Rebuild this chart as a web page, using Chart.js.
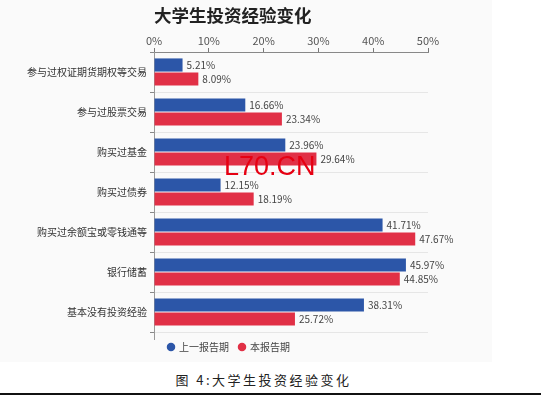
<!DOCTYPE html>
<html>
<head>
<meta charset="utf-8">
<script src="https://cdn.jsdelivr.net/npm/chart.js@4/dist/chart.umd.min.js"></script>
<style>
  html, body { margin: 0; padding: 0; background: #ffffff; }
  body { width: 541px; height: 396px; position: relative; overflow: hidden; }
  #panel { position: absolute; left: 0; top: 0; width: 492px; height: 362px; background: #fafafa; }
  #chart { position: absolute; left: 0; top: 0; }
  #wm { position: absolute; left: 224px; top: 153px; font-family: "Liberation Sans", Arial, sans-serif; font-size: 27px; line-height: 27px; color: #e60012; white-space: nowrap; }
  #caption { position: absolute; left: 0; width: 527px; top: 370px; text-align: center; font-family: "Noto Sans CJK SC", sans-serif; font-size: 13px; line-height: 20px; letter-spacing: 2.5px; color: #222; }
  #rule { position: absolute; left: 0; top: 393px; width: 541px; height: 2px; background: #111; }
</style>
</head>
<body>
<div id="panel"><canvas id="chart" width="492" height="362"></canvas></div>
<div id="wm">L70.CN</div>
<div id="caption">图 4:大学生投资经验变化</div>
<div id="rule"></div>
<script>
const chartTitle = "大学生投资经验变化";
const categories = ["参与过权证期货期权等交易", "参与过股票交易", "购买过基金", "购买过债券", "购买过余额宝或零钱通等", "银行储蓄", "基本没有投资经验"];
const seriesNames = ["上一报告期", "本报告期"];
const previousPeriod = [5.21, 16.66, 23.96, 12.15, 41.71, 45.97, 38.31];
const currentPeriod = [8.09, 23.34, 29.64, 18.19, 47.67, 44.85, 25.72];
const tickValues = [0, 10, 20, 30, 40, 50];

const FONT = "'Noto Sans CJK SC', 'Noto Sans', sans-serif";

const titlePlugin = {
  id: 'leftTitle',
  afterDraw(chart) {
    const ctx = chart.ctx;
    ctx.save();
    ctx.font = "bold 17.5px " + FONT;
    ctx.fillStyle = "#222";
    ctx.textBaseline = "middle";
    ctx.textAlign = "left";
    ctx.fillText(chartTitle, chart.chartArea.left, 15);
    const x = Math.round(chart.chartArea.left) + 0.5;
    ctx.strokeStyle = '#999';
    ctx.lineWidth = 1;
    ctx.beginPath();
    ctx.moveTo(x, chart.chartArea.bottom);
    ctx.lineTo(x, chart.chartArea.bottom + 8);
    ctx.stroke();
    ctx.restore();
  }
};

const valueLabels = {
  id: 'valueLabels',
  afterDatasetsDraw(chart) {
    const ctx = chart.ctx;
    ctx.save();
    ctx.font = "10px " + FONT;
    ctx.fillStyle = "#444";
    ctx.textBaseline = "middle";
    ctx.textAlign = "left";
    chart.data.datasets.forEach((ds, di) => {
      const meta = chart.getDatasetMeta(di);
      meta.data.forEach((bar, i) => {
        ctx.fillText(ds.data[i].toFixed(2) + "%", bar.x + 4, bar.y + 0.5);
      });
    });
    ctx.restore();
  }
};

new Chart(document.getElementById('chart'), {
  type: 'bar',
  data: {
    labels: categories,
    datasets: [
      { label: seriesNames[0], data: previousPeriod, backgroundColor: '#2c56a8', borderWidth: 0, categoryPercentage: 0.7, barPercentage: 0.94, xAxisID: 'x', yAxisID: 'y' },
      { label: seriesNames[1], data: currentPeriod, backgroundColor: '#e13046', borderWidth: 0, categoryPercentage: 0.7, barPercentage: 0.94, xAxisID: 'x', yAxisID: 'y' }
    ]
  },
  options: {
    indexAxis: 'y',
    responsive: false,
    devicePixelRatio: 1,
    animation: false,
    layout: { padding: { left: 22, right: 56, top: 0, bottom: 0 } },
    scales: {
      x: {
        position: 'top',
        min: 0,
        max: 50,
        afterBuildTicks(scale) { scale.ticks = tickValues.map(v => ({ value: v })); },
        afterFit(scale) { scale.height = 52; },
        ticks: {
          callback: v => v + '%',
          font: { family: FONT, size: 11 },
          color: '#555',
          padding: 1,
          maxRotation: 0
        },
        grid: { drawOnChartArea: false, tickLength: 4, tickColor: '#777' },
        border: { color: '#888', width: 1 }
      },
      y: {
        afterFit(scale) { scale.width = 132; },
        ticks: {
          font: { family: FONT, size: 10 },
          color: '#333',
          padding: 3
        },
        grid: {
          offset: true,
          tickLength: 4,
          tickColor: '#888',
          color: ctx => (ctx.index === categories.length ? 'rgba(0,0,0,0)' : '#e6e6e6'),
          lineWidth: 1
        },
        border: { color: '#999', width: 1 }
      },
      spacer: {
        type: 'linear',
        axis: 'y',
        position: 'right',
        afterFit(scale) { scale.width = 8; },
        ticks: { display: false },
        grid: { display: false, drawTicks: false },
        border: { display: false }
      }
    },
    plugins: {
      legend: {
        position: 'bottom',
        labels: {
          usePointStyle: true,
          pointStyle: 'circle',
          boxWidth: 6,
          boxHeight: 6,
          padding: 10,
          font: { family: FONT, size: 10 },
          color: '#444'
        }
      },
      tooltip: { enabled: false }
    }
  },
  plugins: [titlePlugin, valueLabels]
});
</script>
</body>
</html>
